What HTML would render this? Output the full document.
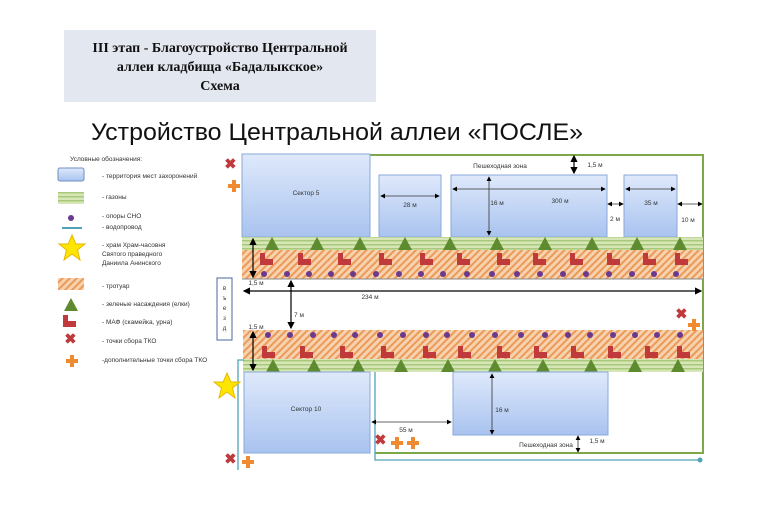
<!DOCTYPE html>
<html><head><meta charset="utf-8"><style>
body{margin:0;background:#fff;width:768px;height:512px;overflow:hidden}
svg{display:block}
</style></head><body>
<svg width="768" height="512" viewBox="0 0 768 512" xmlns="http://www.w3.org/2000/svg" font-family="Liberation Sans, sans-serif">
<defs>
<pattern id="hatch" width="5" height="5" patternUnits="userSpaceOnUse" patternTransform="rotate(45)">
<rect width="5" height="5" fill="#f6d2ae"/><rect width="2" height="5" fill="#ec9a5a"/></pattern>
<pattern id="grass" width="6" height="4" patternUnits="userSpaceOnUse">
<rect width="6" height="4" fill="#d6e6b6"/><rect width="6" height="1.5" fill="#a8c87a"/></pattern>
<linearGradient id="bl" x1="0" y1="0" x2="0" y2="1"><stop offset="0" stop-color="#dfe9fb"/><stop offset="1" stop-color="#a9c3ef"/></linearGradient>
<polygon id="tr" points="0,-7 7,6 -7,6" fill="#5e8a30"/>
<path id="bn" d="M0,0h5v6h8v6h-13z" fill="#c0393b"/>
<circle id="dt" r="3" fill="#6b3a8e"/>
<path id="x" d="M-6,-4l2,-2l2,2l2,-2l2,2l-2,2l2,2l-2,2l-2,-2l-2,2l-2,-2l2,-2z" fill="#c0393b" transform="scale(1.3)"/>
<path id="pl" d="M-2,-6h4v4h4v4h-4v4h-4v-4h-4v-4h4z" fill="#ee8a30"/>
<polygon id="st" points="0,-13 3.8,-4 13,-4 5.5,2 8,12 0,6 -8,12 -5.5,2 -13,-4 -3.8,-4" fill="#ffe600" stroke="#e6b800"/>
<marker id="a" markerWidth="6" markerHeight="6" refX="5" refY="3" orient="auto-start-reverse"><path d="M0,0L6,3L0,6z" fill="#000"/></marker>
</defs>
<rect x="64" y="30" width="312" height="72" fill="#e3e7ef"/>
<g font-family="Liberation Serif, serif" font-weight="bold" font-size="14" text-anchor="middle" fill="#111">
<text x="220" y="52">III этап - Благоустройство Центральной</text>
<text x="220" y="71">аллеи кладбища «Бадалыкское»</text>
<text x="220" y="90">Схема</text></g>
<text x="91" y="140" font-size="24" fill="#111" textLength="492" lengthAdjust="spacingAndGlyphs">Устройство Центральной аллеи «ПОСЛЕ»</text>
<!-- legend -->
<g font-size="6.5" fill="#333">
<text x="70" y="161">Условные обозначения:</text>
<rect x="58" y="168" width="26" height="13" rx="2" fill="url(#bl)" stroke="#6f8fc0"/><text x="102" y="178">- территория мест захоронений</text>
<rect x="58" y="192" width="26" height="12" fill="url(#grass)"/><text x="102" y="199">- газоны</text>
<use href="#dt" x="71" y="218"/><text x="102" y="218">- опоры СНО</text>
<line x1="62" y1="228" x2="82" y2="228" stroke="#4fa3b8" stroke-width="2"/><text x="102" y="229">- водопровод</text>
<use href="#st" x="72" y="248"/><text x="102" y="247">- храм Храм-часовня</text><text x="102" y="256">Святого праведного</text><text x="102" y="265">Даниила Анинского</text>
<rect x="58" y="278" width="26" height="12" fill="url(#hatch)"/><text x="102" y="288">- тротуар</text>
<use href="#tr" x="71" y="305"/><text x="102" y="306">- зеленые насаждения (елки)</text>
<use href="#bn" x="63" y="315"/><text x="102" y="324">- МАФ (скамейка, урна)</text>
<use href="#x" x="73" y="341"/><text x="102" y="343">- точки сбора ТКО</text>
<use href="#pl" x="72" y="361"/><text x="102" y="362">-дополнительные точки сбора ТКО</text>
</g>
<rect x="217" y="278" width="15" height="62" fill="none" stroke="#4a6aa0"/>
<g font-size="6" text-anchor="middle" fill="#333"><text x="224.5" y="290">в</text><text x="224.5" y="300">ъ</text><text x="224.5" y="310">е</text><text x="224.5" y="320">з</text><text x="224.5" y="330">д</text></g>
<!-- borders -->
<polyline points="370,155 703,155 703,453 375,453" fill="none" stroke="#7da84a" stroke-width="2"/>
<!-- top blocks -->
<rect x="242" y="154" width="128" height="83" fill="url(#bl)" stroke="#8aa8d8"/>
<rect x="379" y="175" width="62" height="62" fill="url(#bl)" stroke="#8aa8d8"/>
<rect x="451" y="175" width="156" height="62" fill="url(#bl)" stroke="#8aa8d8"/>
<rect x="624" y="175" width="53" height="62" fill="url(#bl)" stroke="#8aa8d8"/>
<!-- upper strip -->
<rect x="242" y="237" width="461" height="13" fill="url(#grass)"/>
<rect x="242" y="250" width="461" height="29" fill="url(#hatch)"/>
<line x1="242" y1="279" x2="703" y2="279" stroke="#8a8a8a"/>
<g>
<use href="#tr" x="272" y="244"/><use href="#tr" x="317" y="244"/><use href="#tr" x="360" y="244"/><use href="#tr" x="405" y="244"/><use href="#tr" x="450" y="244"/><use href="#tr" x="497" y="244"/><use href="#tr" x="545" y="244"/><use href="#tr" x="592" y="244"/><use href="#tr" x="637" y="244"/><use href="#tr" x="680" y="244"/>
<use href="#bn" x="260" y="253"/><use href="#bn" x="298" y="253"/><use href="#bn" x="338" y="253"/><use href="#bn" x="379" y="253"/><use href="#bn" x="420" y="253"/><use href="#bn" x="457" y="253"/><use href="#bn" x="497" y="253"/><use href="#bn" x="533" y="253"/><use href="#bn" x="570" y="253"/><use href="#bn" x="607" y="253"/><use href="#bn" x="643" y="253"/><use href="#bn" x="675" y="253"/>
<use href="#dt" x="264" y="274"/><use href="#dt" x="287" y="274"/><use href="#dt" x="309" y="274"/><use href="#dt" x="331" y="274"/><use href="#dt" x="353" y="274"/><use href="#dt" x="376" y="274"/><use href="#dt" x="399" y="274"/><use href="#dt" x="421" y="274"/><use href="#dt" x="443" y="274"/><use href="#dt" x="467" y="274"/><use href="#dt" x="492" y="274"/><use href="#dt" x="517" y="274"/><use href="#dt" x="540" y="274"/><use href="#dt" x="563" y="274"/><use href="#dt" x="586" y="274"/><use href="#dt" x="609" y="274"/><use href="#dt" x="632" y="274"/><use href="#dt" x="654" y="274"/><use href="#dt" x="676" y="274"/>
</g>
<!-- lower strip -->
<rect x="243" y="330" width="460" height="29" fill="url(#hatch)"/>
<rect x="243" y="359" width="460" height="13" fill="url(#grass)"/>
<g>
<use href="#dt" x="268" y="335"/><use href="#dt" x="290" y="335"/><use href="#dt" x="313" y="335"/><use href="#dt" x="334" y="335"/><use href="#dt" x="355" y="335"/><use href="#dt" x="380" y="335"/><use href="#dt" x="403" y="335"/><use href="#dt" x="426" y="335"/><use href="#dt" x="447" y="335"/><use href="#dt" x="472" y="335"/><use href="#dt" x="495" y="335"/><use href="#dt" x="521" y="335"/><use href="#dt" x="545" y="335"/><use href="#dt" x="568" y="335"/><use href="#dt" x="590" y="335"/><use href="#dt" x="613" y="335"/><use href="#dt" x="635" y="335"/><use href="#dt" x="657" y="335"/><use href="#dt" x="680" y="335"/>
<use href="#bn" x="262" y="346"/><use href="#bn" x="300" y="346"/><use href="#bn" x="340" y="346"/><use href="#bn" x="381" y="346"/><use href="#bn" x="423" y="346"/><use href="#bn" x="458" y="346"/><use href="#bn" x="497" y="346"/><use href="#bn" x="534" y="346"/><use href="#bn" x="571" y="346"/><use href="#bn" x="608" y="346"/><use href="#bn" x="645" y="346"/><use href="#bn" x="677" y="346"/>
<use href="#tr" x="273" y="366"/><use href="#tr" x="314" y="366"/><use href="#tr" x="358" y="366"/><use href="#tr" x="401" y="366"/><use href="#tr" x="448" y="366"/><use href="#tr" x="495" y="366"/><use href="#tr" x="543" y="366"/><use href="#tr" x="591" y="366"/><use href="#tr" x="635" y="366"/><use href="#tr" x="678" y="366"/>
</g>
<rect x="244" y="372" width="126" height="81" fill="url(#bl)" stroke="#8aa8d8"/>
<rect x="453" y="372" width="155" height="63" fill="url(#bl)" stroke="#8aa8d8"/>
<!-- water -->
<polyline points="244,360 238,360 238,470" fill="none" stroke="#4fa3b8" stroke-width="1.3"/>
<polyline points="375,372 375,460 699,460" fill="none" stroke="#4fa3b8" stroke-width="1.3"/>
<circle cx="700" cy="460" r="2.5" fill="#4fa3b8"/>
<!-- labels -->
<g font-size="6.5" fill="#333" text-anchor="middle">
<text x="306" y="195">Сектор 5</text>
<text x="500" y="168">Пешеходная зона</text><text x="595" y="167">1,5 м</text>
<text x="410" y="207">28 м</text><text x="497" y="205">16 м</text><text x="560" y="203">300 м</text>
<text x="615" y="221">2 м</text><text x="651" y="205">35 м</text><text x="688" y="222">10 м</text>
<text x="256" y="285">1,5 м</text><text x="370" y="299">234 м</text><text x="299" y="317">7 м</text>
<text x="256" y="329">1,5 м</text><text x="306" y="411">Сектор 10</text><text x="502" y="412">16 м</text>
<text x="406" y="432">55 м</text><text x="546" y="447">Пешеходная зона</text><text x="597" y="443">1,5 м</text>
</g>
<g stroke="#333" stroke-width="0.8" marker-start="url(#a)" marker-end="url(#a)" fill="none">
<line x1="381" y1="196" x2="439" y2="196"/><line x1="453" y1="189" x2="605" y2="189"/>
<line x1="489" y1="177" x2="489" y2="235"/><line x1="608" y1="204" x2="623" y2="204"/>
<line x1="626" y1="189" x2="675" y2="189"/><line x1="678" y1="204" x2="702" y2="204"/>
<line x1="372" y1="422" x2="451" y2="422"/><line x1="492" y1="374" x2="492" y2="434"/>
<line x1="578" y1="436" x2="578" y2="452"/>
</g>
<g stroke="#000" stroke-width="1.2" marker-start="url(#a)" marker-end="url(#a)">
<line x1="574" y1="156" x2="574" y2="173"/><line x1="253" y1="239" x2="253" y2="277"/>
<line x1="244" y1="291" x2="701" y2="291"/><line x1="253" y1="332" x2="253" y2="370"/>
<line x1="291" y1="281" x2="291" y2="328"/>
</g>
<!-- icons -->
<use href="#x" x="233" y="166"/><use href="#pl" x="234" y="186"/>
<use href="#x" x="684" y="316"/><use href="#pl" x="694" y="325"/>
<use href="#st" x="227" y="386"/>
<use href="#x" x="383" y="442"/><use href="#pl" x="397" y="443"/><use href="#pl" x="413" y="443"/>
<use href="#x" x="233" y="461"/><use href="#pl" x="248" y="462"/>
</svg>
</body></html>
